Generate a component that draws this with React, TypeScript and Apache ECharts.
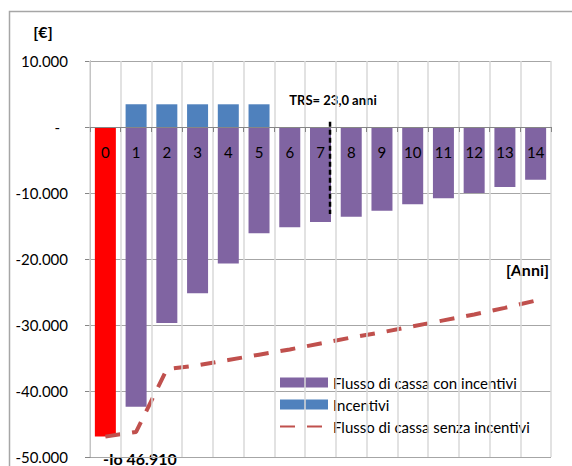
import React, { useEffect, useRef } from "react";
import * as echarts from "echarts";

const years = ["0", "1", "2", "3", "4", "5", "6", "7", "8", "9", "10", "11", "12", "13", "14"];
const flussoConIncentivi = [-46910, -42380, -29700, -25200, -20700, -16100, -15200, -14400, -13600, -12700, -11700, -10800, -10000, -9100, -8000];
const incentivi = [null, 3440, 3440, 3440, 3440, 3440, null, null, null, null, null, null, null, null, null];
const flussoSenzaIncentivi = [-46910, -46200, -36700, -36100, -35300, -34500, -33700, -32800, -31900, -31100, -30200, -29300, -28400, -27400, -26300];
const trsLine = [[7.31, 800], [7.31, -13200]];
const yTicks = { min: -50000, max: 10000, interval: 10000 };

const FONT = "Lato";
const GRID_TOP = 61;
const GRID_BOTTOM = 9;
const PLOT_H = 466 - GRID_TOP - GRID_BOTTOM;
// distance from the bottom of the plot up to the zero value
const ZERO_OFFSET = Math.round((PLOT_H * (0 - yTicks.min)) / (yTicks.max - yTicks.min));

function fmt(v: number): string {
  if (v === 0) return "{z|-}";
  const s = Math.abs(v).toString().replace(/\B(?=(\d{3})+(?!\d))/g, ".");
  return (v < 0 ? "-" : "") + s;
}

export default function App() {
  const ref = useRef<HTMLDivElement>(null);
  useEffect(() => {
    if (!ref.current) return;
    const chart = echarts.init(ref.current, undefined, { renderer: "svg" });
    chart.setOption({
      animation: false,
      backgroundColor: "#ffffff",
      textStyle: { fontFamily: FONT },
      grid: { left: 90, right: 21, top: GRID_TOP, bottom: GRID_BOTTOM, containLabel: false },
      legend: {
        orient: "vertical",
        left: 274,
        top: 369,
        itemWidth: 48,
        itemHeight: 10,
        itemGap: 5,
        data: [
          { name: "Flusso di cassa con incentivi", icon: "rect", itemStyle: { color: "#8064A2" } },
          { name: "Incentivi", icon: "rect" },
          { name: "Flusso di cassa senza incentivi", itemStyle: { opacity: 0 } },
        ],
        textStyle: { fontFamily: FONT, fontSize: 15, color: "#000", lineHeight: 17 },
        selectedMode: false,
      },
      xAxis: [
        {
          type: "category",
          data: years,
          position: "bottom",
          offset: -ZERO_OFFSET,
          axisLine: { onZero: false, lineStyle: { color: "#868686", width: 1 } },
          axisTick: { show: true, length: 5, lineStyle: { color: "#868686" } },
          splitLine: { show: true, lineStyle: { color: "#d9d9d9", width: 1.5 } },
          axisLabel: { fontFamily: FONT, fontSize: 15, color: "#000", margin: 17 },
          z: 10,
        },
        {
          type: "value",
          min: -0.5,
          max: 14.5,
          show: false,
          axisLine: { onZero: false },
        },
      ],
      yAxis: {
        type: "value",
        min: yTicks.min,
        max: yTicks.max,
        interval: yTicks.interval,
        axisLine: { show: true, onZero: false, lineStyle: { color: "#868686" } },
        axisTick: { show: true, length: 5, lineStyle: { color: "#868686" } },
        splitLine: { show: true, lineStyle: { color: "#a6a6a6", width: 1 } },
        axisLabel: {
          fontFamily: FONT,
          fontSize: 15,
          color: "#000",
          margin: 22,
          formatter: (v: number) => fmt(v),
          rich: { z: { fontFamily: FONT, fontSize: 15, color: "#000", padding: [0, 8, 0, 0] } },
        },
      },
      series: [
        {
          name: "Flusso di cassa con incentivi",
          type: "bar",
          stack: "a",
          barWidth: 21,
          itemStyle: { color: "#8064A2" },
          data: flussoConIncentivi.map((v, i) => (i === 0 ? { value: v, itemStyle: { color: "#FF0000" } } : v)),
        },
        {
          name: "Incentivi",
          type: "bar",
          stack: "a",
          barWidth: 21,
          itemStyle: { color: "#4F81BD" },
          data: incentivi.map((v) => (v === null ? "-" : v)),
        },
        {
          name: "Flusso di cassa senza incentivi",
          type: "line",
          symbol: "none",
          lineStyle: { color: "#C0504D", width: 4, type: [15, 12] },
          itemStyle: { color: "#C0504D" },
          data: flussoSenzaIncentivi,
          z: 5,
        },
        {
          name: "TRS",
          type: "line",
          xAxisIndex: 1,
          symbol: "none",
          lineStyle: { color: "#000", width: 2.5, type: [5, 3] },
          data: trsLine,
          z: 6,
        },
      ],
      graphic: [
        {
          type: "rect",
          shape: { x: 9.5, y: 11.5, width: 600, height: 500 },
          style: { fill: "none", stroke: "#a6a6a6", lineWidth: 1.5 },
          silent: true,
        },
        {
          type: "text",
          x: 43,
          y: 31,
          style: { text: "[€]", fontFamily: FONT, fontSize: 16, fontWeight: "bold", fill: "#000", align: "center", verticalAlign: "middle" },
        },
        {
          type: "text",
          x: 333,
          y: 100,
          style: { text: "TRS= 23,0 anni", fontFamily: FONT, fontSize: 13, fontWeight: "bold", fill: "#000", align: "center", verticalAlign: "middle" },
        },
        {
          type: "text",
          x: 549,
          y: 269,
          style: { text: "[Anni]", fontFamily: FONT, fontSize: 16, fontWeight: "bold", fill: "#000", align: "right", verticalAlign: "middle" },
        },
        {
          type: "text",
          x: 103,
          y: 458,
          style: { text: "-Io 46.910", fontFamily: FONT, fontSize: 16, fontWeight: "bold", fill: "#000", align: "left", verticalAlign: "middle" },
        },
      ],
    });
    return () => chart.dispose();
  }, []);
  return (
    <div
      ref={ref}
      style={{ position: "absolute", left: 0, top: 0, width: 572, height: 466 }}
    />
  );
}
